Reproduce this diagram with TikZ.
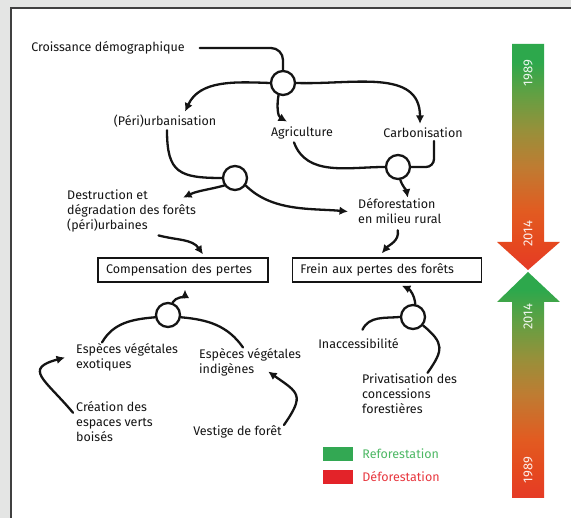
\documentclass[tikz,border=0pt]{standalone}
\usepackage{fontspec}
\setmainfont{Fira Sans}
\usepackage{xcolor}
\usetikzlibrary{arrows.meta, positioning, calc}

\definecolor{ink}{HTML}{141414}
\definecolor{panelgray}{HTML}{E4E5E4}
\definecolor{framegray}{HTML}{404040}
\definecolor{refgreen}{HTML}{33A853}
\definecolor{refgreentxt}{HTML}{4DB864}
\definecolor{defred}{HTML}{E32329}
\definecolor{defredtxt}{HTML}{E8373F}
\definecolor{tlA}{HTML}{E53A26}
\definecolor{tlB}{HTML}{E5491F}
\definecolor{tlC}{HTML}{E25B21}
\definecolor{tlD}{HTML}{BE7C32}
\definecolor{tlE}{HTML}{97903A}
\definecolor{tlF}{HTML}{62A043}
\definecolor{tlG}{HTML}{2DA84C}
\pgfdeclareverticalshading{timeline}{100bp}{color(0bp)=(tlA); color(25bp)=(tlA); color(31bp)=(tlB); color(38bp)=(tlC); color(48bp)=(tlD); color(56bp)=(tlE); color(64bp)=(tlF); color(71bp)=(tlG); color(100bp)=(tlG)}

\begin{document}
\begin{tikzpicture}[x=1pt, y=1pt,
    lbl/.style={inner sep=0pt, text=ink, font=\fontsize{12.5}{15}\selectfont, align=left},
    lossbox/.style={lbl, draw=ink, line width=1.3pt, inner xsep=8pt, inner ysep=0pt, minimum height=24pt, text width=#1},
    junc/.style={circle, draw=ink, fill=white, line width=2.3pt, minimum size=24pt, inner sep=0pt},
    link/.style={draw=ink, line width=2.3pt, line cap=round},
    arr/.style={link, -{Latex[length=8.5pt, width=8.5pt]}},
    year/.style={rotate=90, text=white, text opacity=0.9, font=\fontsize{13}{14}\selectfont, inner sep=0pt},
    swatch/.style={minimum width=30pt, minimum height=14pt, inner sep=0pt}]
        \useasboundingbox (0,0) rectangle (571,518);
        \fill[panelgray] (0,0) rectangle (571,518);
        \fill[white] (11,0) rectangle (571,509);
        \draw[framegray, line width=2pt] (10.5,0) -- (10.5,509.5) -- (571,509.5);

        % texts
        \draw node[lbl] (croiss) at (108,470) {Croissance démographique};
        \draw node[lbl] (urban) at (165,397) {(Péri)urbanisation};
        \draw node[lbl] (agri) at (302,385) {Agriculture};
        \draw node[lbl] (carbo) at (423,385) {Carbonisation};
        \draw node[lbl, anchor=west] (destr) at (67,307) {Destruction et\\dégradation des forêts\\(péri)urbaines};
        \draw node[lbl, anchor=west] (defor) at (358,306.5) {Déforestation\\en milieu rural};
        \draw node[lossbox=154pt] (comp) at (183,248) {Compensation des pertes};
        \draw node[lossbox=173pt, right=23pt of comp] (frein) {Frein aux pertes des forêts};
        \draw node[lbl, anchor=west] (exot) at (76,160.5) {Espèces végétales\\exotiques};
        \draw node[lbl, anchor=west] (indig) at (199,155.5) {Espèces végétales\\indigènes};
        \draw node[lbl, anchor=west] (creat) at (76,96) {Création des\\espaces verts\\boisés};
        \draw node[lbl] (vestige) at (237.5,86) {Vestige de forêt};
        \draw node[lbl] (inacc) at (358.5,174) {Inaccessibilité};
        \draw node[lbl, anchor=west] (priv) at (362,124) {Privatisation des\\concessions\\forestières};

        \foreach \j/\p in {j1/{283,435}, j2/{235,340}, j3/{398,351}, j4/{168,203}, j5/{413,201}}
        \draw node[junc] (\j) at (\p) {};

        % upper part
        \draw[link, rounded corners=12pt] ([xshift=15pt]croiss.east) -| (j1.north);
        \draw[arr] (j1.west) to[out=178, in=65] ([xshift=20pt, yshift=3pt]urban.north);
        \draw[arr] (j1.250) to[out=-100, in=150] ([xshift=-15pt, yshift=5pt]agri.north);
        \draw[arr] (j1.east) to[out=-2, in=90, looseness=1.1] ([xshift=-3pt, yshift=4pt]carbo.north);
        \draw[link] ([xshift=2pt, yshift=-3pt]urban.south) to[out=-90, in=180, looseness=1.5] (j2.west);
        \draw[arr] (j2.215) to[out=195, in=25] ([xshift=-13pt, yshift=-8pt]destr.north east);
        \draw[arr] (j2.-35) to[out=-45, in=175, looseness=0.9] ([xshift=-10pt]defor.west);
        \draw[link] ([xshift=-8pt, yshift=-3pt]agri.south) to[out=-70, in=180] (j3.west);
        \draw[link, rounded corners=8pt] ([xshift=11pt, yshift=-3pt]carbo.south) |- (j3.east);
        \draw[arr] (j3.-80) to[out=-70, in=100] ([xshift=8pt, yshift=1pt]defor.north);

        % towards the boxes
        \draw[arr] ([xshift=27pt, yshift=-3pt]destr.south) to[out=-15, in=125] ([xshift=20pt, yshift=3pt]comp.north);
        \draw[arr] ([xshift=-2pt, yshift=-6pt]defor.south) to[out=-80, in=50] ([xshift=-5pt, yshift=4pt]frein.north);
        \draw[arr] (j4.70) to[out=60, in=-90] ([xshift=2pt, yshift=-7pt]comp.south);
        \draw[arr] (j5.80) to[out=95, in=-25] ([xshift=15pt, yshift=-3pt]frein.south);

        % lower part
        \draw[link] (j4.190) to[out=185, in=60] ([xshift=26pt, yshift=1pt]exot.north west);
        \draw[link] (j4.-10) to[out=-5, in=125] ([xshift=44pt, yshift=1pt]indig.north west);
        \draw[arr] ([xshift=-3pt, yshift=-11pt]creat.north west) to[out=130, in=195, looseness=2] ([xshift=-11pt]exot.west);
        \draw[arr] ([xshift=2pt, yshift=7pt]vestige.east) to[out=55, in=-35, looseness=1.7] ([xshift=-33pt, yshift=5pt]indig.south east);
        \draw[link] ([xshift=4pt, yshift=9pt]inacc.north) to[out=65, in=185] (j5.west);
        \draw[link] ([xshift=18pt, yshift=1pt]priv.north) to[out=55, in=-40, looseness=1.5] (j5.-40);

        % time arrows
        \shade[shading=timeline] (512,474) -- (544,474) -- (544,276) -- (560,276) -- (528,248) -- (497,276) -- (512,276) -- cycle;
        \shade[shading=timeline] (528,246) -- (560,216) -- (544,216) -- (544,20) -- (512,20) -- (512,216) -- (497,216) -- cycle;
        \foreach \y/\yr in {445/1989, 284/2014, 201/2014, 48/1989}
        \draw node[year] (yr\y) at (528,\y) {\yr};

        % legend
        \foreach \c/\ct/\t/\y [count=\i] in {refgreen/refgreentxt/Reforestation/64, defred/defredtxt/Déforestation/41}
        {
        \draw node[swatch, fill=\c] (sw\i) at (338,\y) {};
        \draw node[lbl, text=\ct, right=9pt of sw\i] (leg\i) {\t};
        }
\end{tikzpicture}
\end{document}
